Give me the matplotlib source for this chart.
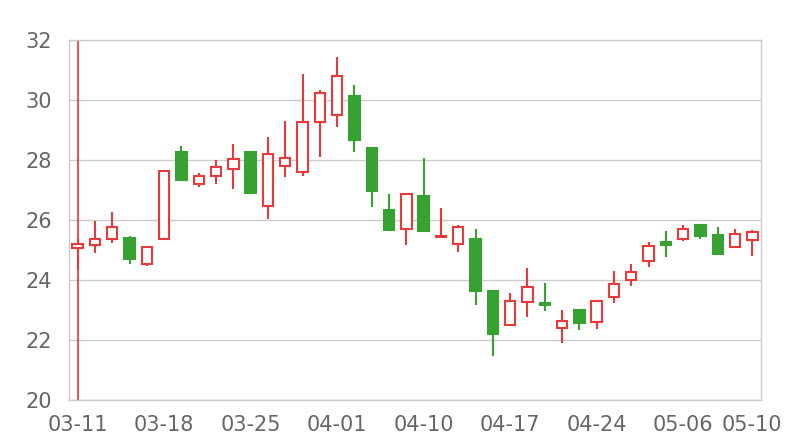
import numpy as np
import matplotlib.pyplot as plt
from matplotlib.patches import Rectangle

# 日期和K线数据 (开, 收, 低, 高)
dates = ['03-11', '03-12', '03-13', '03-14', '03-15',
         '03-18', '03-19', '03-20', '03-21', '03-22',
         '03-25', '03-26', '03-27', '03-28', '03-29',
         '04-01', '04-02', '04-03', '04-04', '04-08',
         '04-10', '04-11', '04-12', '04-15', '04-16',
         '04-17', '04-18', '04-19', '04-22', '04-23',
         '04-24', '04-25', '04-26', '04-29', '04-30',
         '05-06', '05-07', '05-08', '05-09', '05-10']
opens = [25.07, 25.16, 25.36, 25.41, 24.53, 25.36, 28.26, 27.19, 27.47, 27.71,
         28.26, 26.48, 27.80, 27.59, 29.26, 29.51, 30.12, 28.41, 26.33, 25.69,
         26.81, 25.42, 25.20, 25.38, 23.62, 22.50, 23.26, 23.24, 22.39, 22.99,
         22.60, 23.42, 23.99, 24.63, 25.27, 25.36, 25.83, 25.50, 25.11, 25.33]
closes = [25.20, 25.37, 25.76, 24.71, 25.11, 27.64, 27.34, 27.47, 27.78, 28.04,
          26.91, 28.21, 28.08, 29.27, 30.22, 30.81, 28.66, 26.98, 25.67, 26.86,
          25.63, 25.48, 25.78, 23.64, 22.19, 23.31, 23.76, 23.16, 22.64, 22.58,
          23.30, 23.88, 24.27, 25.14, 25.16, 25.71, 25.46, 24.87, 25.53, 25.59]
lows = [24.33, 24.91, 25.22, 24.53, 24.47, 25.36, 27.34, 27.09, 27.20, 27.03,
        26.87, 26.02, 27.44, 27.47, 28.09, 29.11, 28.26, 26.44, 25.64, 25.17,
        25.63, 25.39, 24.92, 23.16, 21.46, 22.50, 22.76, 22.98, 21.89, 22.32,
        22.38, 23.22, 23.81, 24.42, 24.76, 25.30, 25.38, 24.84, 25.11, 24.81]
highs = [25.37, 25.97, 26.28, 25.46, 25.11, 27.64, 28.48, 27.58, 27.99, 28.52,
         28.30, 28.78, 29.29, 30.86, 30.34, 31.42, 30.50, 28.41, 26.87, 26.86,
         28.06, 26.39, 25.82, 25.69, 23.62, 23.56, 24.39, 23.89, 22.99, 22.99,
         23.30, 24.30, 24.53, 25.26, 25.64, 25.82, 25.83, 25.76, 25.70, 25.66]
tick_idx = [0, 5, 10, 15, 20, 25, 30, 35, 39]

up_color = '#e8393b'
down_color = '#37a232'

fig = plt.figure(figsize=(8, 4.4), dpi=100)
ax = fig.add_axes([69 / 800, 40 / 440, 692 / 800, 360 / 440])

# 第一天的竖线
ax.axvline(0, color=up_color, lw=1.5, alpha=0.85, zorder=2)

w = 0.6
for i in range(len(dates)):
    o, c, l, h = opens[i], closes[i], lows[i], highs[i]
    if c >= o:
        col = up_color
        face = 'white'
    else:
        col = down_color
        face = down_color
    ax.plot([i, i], [l, h], color=col, lw=1.5, solid_capstyle='butt', zorder=3)
    bot = min(o, c)
    hgt = max(abs(c - o), 0.04)
    ax.add_patch(Rectangle((i - w / 2, bot), w, hgt, facecolor=face,
                           edgecolor=col, lw=1.5, zorder=4))

ax.set_xlim(-0.5, len(dates) - 0.5)
ax.set_ylim(20, 32)
ax.set_yticks(np.arange(20, 33, 2))
ax.set_xticks(tick_idx)
ax.set_xticklabels([dates[i] for i in tick_idx])
ax.grid(axis='y', color='#cccccc', lw=1)
ax.set_axisbelow(True)
for s in ax.spines.values():
    s.set_color('#cccccc')
    s.set_linewidth(1)
ax.tick_params(length=0, labelsize=15, labelcolor='#666666')
ax.tick_params(axis='y', pad=12)
ax.tick_params(axis='x', pad=11)

fig.savefig('out.png', dpi=100)
